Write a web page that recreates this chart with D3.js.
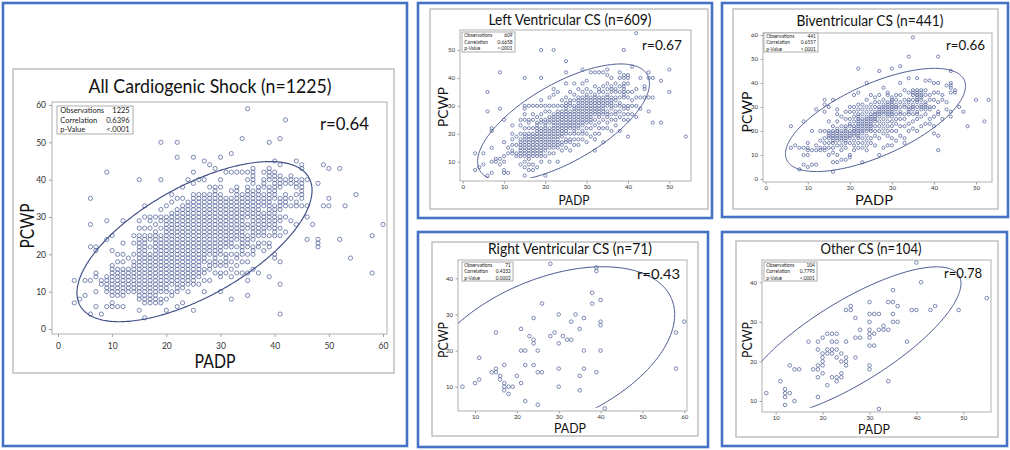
<!DOCTYPE html>
<html><head><meta charset="utf-8">
<script src="https://cdn.jsdelivr.net/npm/d3@7"></script>
<style>body{margin:0;background:#fff} svg{display:block}</style>
</head><body>
<svg id="c" width="1010" height="450"></svg>
<script>
// ---------- DATA ----------
const panelTitles = ["All Cardiogenic Shock (n=1225)", "Left Ventricular CS (n=609)", "Biventricular CS (n=441)", "Right Ventricular CS (n=71)", "Other CS (n=104)"];
const observations = ["1225", "609", "441", "71", "104"];
const correlations = ["0.6396", "0.6658", "0.6557", "0.4332", "0.7795"];
const pValues = ["<.0001", "<.0001", "<.0001", "0.0002", "<.0001"];
const rLabels = ["r=0.64", "r=0.67", "r=0.66", "r=0.43", "r=0.78"];
const xTickValues = [[0,10,20,30,40,50,60],[0,10,20,30,40,50],[0,10,20,30,40,50],[10,20,30,40,50,60],[10,20,30,40,50]];
const yTickValues = [[0,10,20,30,40,50,60],[10,20,30,40,50],[0,10,20,30,40,50,60],[10,20,30,40],[10,20,30,40]];
// prediction ellipse: mean PADP, mean PCWP, half-extent PADP, half-extent PCWP, correlation
const ellipseStats = [[25.2,23.4,21.7,21.45,0.64],[24.4,24.0,20.8,21.0,0.665],[26.1,24.6,21.4,21.5,0.6557],[27.4,19.8,30.3,23.4,0.4332],[25.9,24.8,23.6,19.1,0.78]];
const ellipseClipPCWPMin = [null, 4.2, null, 4.2, 8.3];

// PADP value -> list of PCWP values
const allCSColumns = [
 [3,[7,13]],[4,[8]],[5,[9,13]],[6,[4,13,22,28,35]],[7,[6,10,14,15,21,22]],[8,[4,12,13]],
 [9,[6,10,11,12,13,14,24,29,42]],
 [10,[6,7,9,10,11,12,13,14,15,16,17,21,25]],
 [11,[6,9,10,11,12,13,14,15,16,18,20]],
 [12,[6,9,10,11,12,13,14,15,16,18,20,23,29]],
 [13,[10,11,12,13,14,15,16,19]],
 [14,[10,11,12,13,14,15,16,17,18,20,23,25]],
 [15,[5,8,9,10,11,12,13,14,15,16,17,18,19,20,21,22,23,24,25,27,29,40]],
 [16,[3,7,8,9,10,11,12,13,14,15,16,17,18,19,20,21,22,23,24,25,27,30,33]],
 [17,[7,8,9,10,11,12,13,14,15,16,17,18,19,20,22,24,25,27,29,30]],
 [18,[7,8,9,10,11,12,13,14,15,16,17,18,19,20,21,22,23,24,25,26,28,30]],
 [19,[7,8,10,11,12,13,14,15,16,17,18,19,20,21,22,23,24,25,27,29,30,32,40,50]],
 [20,[5,8,10,11,12,13,14,15,16,17,18,19,20,21,22,23,24,25,26,27,28,29,30,33]],
 [21,[9,10,12,13,14,15,16,17,18,19,20,21,22,23,24,25,26,27,28,29,30,31,34,36]],
 [22,[6,10,11,12,13,14,15,16,17,18,19,20,21,22,23,24,25,26,27,28,29,30,31,32,35,46,50]],
 [23,[7,11,12,13,14,15,16,17,18,19,20,21,22,23,24,25,26,27,28,29,30,31,32,33,35,38]],
 [24,[10,12,13,14,15,16,17,18,19,20,21,22,23,24,25,26,27,28,29,30,31,32,33,34,40]],
 [25,[5,12,13,14,15,16,17,18,19,20,21,22,23,24,25,26,27,28,29,30,31,32,33,34,35,36,39,42,46]],
 [26,[12,14,15,16,17,18,19,20,21,22,23,24,25,26,27,28,29,30,31,32,33,34,35,36,40]],
 [27,[10,13,15,16,18,19,20,21,22,23,24,25,26,27,28,29,30,31,32,33,34,35,36,40,45]],
 [28,[13,16,17,18,20,21,22,23,24,25,26,27,28,29,30,31,32,33,34,35,36,38,44]],
 [29,[15,17,18,19,20,21,22,23,24,25,26,27,28,29,30,31,32,33,34,35,36,37,38,43]],
 [30,[10,14,15,17,18,20,21,22,23,24,25,26,27,28,29,30,31,32,33,34,35,36,38,40,46]],
 [31,[15,17,18,19,20,22,23,24,25,26,27,28,29,30,31,32,33,34,35,42]],
 [32,[8,14,16,18,20,22,23,24,25,26,27,28,29,30,31,32,33,34,35,37,42,47]],
 [33,[15,17,19,20,22,24,25,26,27,28,29,30,31,32,33,34,35,36,37,38,42]],
 [34,[15,18,20,21,22,23,24,25,26,27,28,29,30,31,32,33,34,35,36,42,51]],
 [35,[9,13,15,18,20,22,23,24,25,27,28,30,31,32,33,34,35,36,37,38,40,42,59]],
 [36,[16,20,21,22,24,25,26,27,28,29,30,31,32,33,34,35,36,37,39,40,41,42,43]],
 [37,[15,22,23,25,26,27,28,29,30,31,32,33,34,35,36,37,38]],
 [38,[21,23,25,26,27,28,29,30,31,33,34,35,36,38,39,40,42]],
 [39,[14,22,23,25,27,28,29,30,31,32,33,34,35,36,37,38,40,41,42,43,50]],
 [40,[19,20,25,26,27,28,29,30,31,32,33,35,36,37,38,39,40,41,42,45]],
 [41,[4,12,18,25,27,29,30,32,33,34,35,38,39,40,41,44,51]],
 [42,[26,30,33,34,35,36,39,40,56]],
 [43,[29,33,35,39,40,41]],
 [44,[28,33,34,36,38,39,40,45]],
 [45,[33,35,36,37,38,39,40,43,44]],
 [46,[24,30,33,40]],[47,[28]],[48,[22,23,24,39]],[49,[33,44]],[50,[33,35,43]],
 [52,[24,43]],[53,[33]],[54,[19]],[55,[36]],[58,[15,25]],[60,[28]]
];

const lvColumns = [
 [3,[7,13]],[4,[8]],[5,[9,13]],[6,[5,28,35]],[7,[6,10,15,21,22]],[8,[10,11]],[9,[9,11,29,42]],
 [10,[6,7,10,12,17,25]],[11,[6,13,15]],[12,[13,14,16,18,20,23]],[13,[12,13,16,19]],
 [14,[9,12,13,14,15,16,17,18,20,23,25]],
 [15,[5,8,10,12,13,14,15,16,17,18,19,20,22,25,27,29,30,40]],
 [16,[7,9,11,12,13,14,15,16,17,18,19,20,22,24,25,30]],
 [17,[7,9,12,13,14,15,16,17,18,19,20,22,25,27,30]],
 [18,[8,12,13,14,15,16,17,18,19,20,21,22,23,24,26,30]],
 [19,[10,12,13,14,15,16,17,18,19,20,21,22,24,25,27,30,32,40,50]],
 [20,[5,12,14,15,16,17,18,19,20,21,22,23,24,25,28,30]],
 [21,[10,13,15,16,17,18,19,20,21,22,24,25,26,28,30,33]],
 [22,[13,15,16,17,18,19,20,21,22,23,24,25,26,27,30,34,36,50]],
 [23,[10,15,16,17,18,19,20,21,22,23,24,25,26,27,28,30,35]],
 [24,[14,16,17,19,20,21,22,23,24,25,26,27,28,30,32]],
 [25,[15,17,18,20,21,22,23,24,25,26,27,28,29,30,31,33,38,42,46]],
 [26,[14,17,18,20,22,23,24,25,26,27,28,30,31,32,35]],
 [27,[16,18,20,21,22,23,24,25,26,27,28,29,30,32,34,38]],
 [28,[16,18,20,22,23,24,25,26,27,28,29,30,31,32,33,36]],
 [29,[18,20,21,23,24,25,26,27,28,29,30,31,32,33,35,38,43]],
 [30,[17,20,22,24,25,26,27,28,29,30,31,32,33,34,36,39]],
 [31,[19,22,24,25,26,27,28,29,30,31,32,33,35,42]],
 [32,[14,18,20,23,25,27,28,29,30,31,32,33,34,37,42]],
 [33,[20,22,24,26,27,28,29,30,31,32,33,35,36,42]],
 [34,[17,22,25,27,28,29,30,31,32,33,35,37,42]],
 [35,[22,24,26,27,28,30,31,32,33,34,36,38,41,43]],
 [36,[21,25,27,29,30,31,32,33,35,36,37,40]],
 [37,[23,25,27,28,30,32,33,35,36,38]],
 [38,[21,26,28,30,31,33,35,37,40,42]],
 [39,[25,27,29,30,33,34,35,36,37,38,40,41,50]],
 [40,[19,25,27,29,30,33,35,38,40,41]],
 [41,[27,30,32,35,44]],[42,[26,30,33,36,56]],[43,[29,33,40]],[44,[33,36,37]],
 [45,[28,33,40,42]],[46,[24,33,40]],[48,[24,39]],[50,[35,43]],[54,[19]]
];

const bivColumns = [
 [6,[13,22]],[7,[14]],[8,[4,13]],[9,[6,10,13,24]],[10,[5,10,12,13,15]],[11,[6,12,20]],[12,[6,12,14,29]],
 [13,[12,13,16,20]],[14,[12,13,15,17,20,28,31,33]],[15,[10,13,15,17,18,19,20,24,30]],
 [16,[3,7,11,13,15,16,17,18,19,20,22,33]],
 [17,[7,10,14,16,17,18,19,20,21,24,27,29]],
 [18,[8,12,14,16,17,18,19,20,22,26]],
 [19,[8,13,15,16,17,18,19,20,21,22,25,28]],
 [20,[9,10,15,17,18,19,20,22,23,25,28,30]],
 [21,[12,14,16,18,19,20,21,22,24,26,28,30,35]],
 [22,[13,15,17,18,19,20,21,22,23,24,25,26,27,29,31,36,46]],
 [23,[7,13,15,17,19,20,21,22,23,24,25,27,29,31]],
 [24,[12,14,16,18,20,21,22,23,24,25,26,28,30,33,40]],
 [25,[15,17,20,21,22,23,24,25,26,27,29,31,35]],
 [26,[14,18,20,22,24,25,26,27,28,30,32,34]],
 [27,[10,17,20,22,24,26,27,28,29,30,32,35,45]],
 [28,[13,19,21,23,25,27,28,29,30,31,33,38]],
 [29,[14,18,20,22,24,26,27,28,29,30,31,32,35,36]],
 [30,[14,17,20,22,24,26,27,28,29,30,31,32,33,34,46]],
 [31,[16,20,23,25,27,29,30,31,33,35]],
 [32,[18,22,25,27,28,30,32,35,40,47]],
 [33,[15,17,22,25,27,30,31,33,37]],
 [34,[20,23,27,28,29,30,32,33,36,42,51]],
 [35,[21,24,27,29,30,31,33,35,36,37,59]],
 [36,[20,25,27,28,30,32,33,34,35,36,37,42]],
 [37,[22,26,29,30,31,33,34,35,36,37]],
 [38,[23,27,29,30,31,32,35,37,41]],
 [39,[23,25,29,30,33,35,41]],
 [40,[19,22,26,30,33,36,40]],
 [41,[12,18,27,28,32,36,40,51]],
 [42,[25,33,35]],[43,[29,32,39]],[44,[26,28,36,38,39,40,45]],[45,[36,37]],
 [46,[30]],[47,[28]],[48,[22]],[50,[33]],[52,[24]],[53,[33]]
];

const rvPoints = [[28,44],[39,43],[39,42],[38,36],[40,34],[38,33],[26,33],[24,29],[30,30],[34,30],[36,29],[33,28],[40,28],[40,27],[29,25],[28,24],[21,26],[15,25],[23,24],[24,23],[24,22],[31,24],[32,23],[33,23],[30,22],[35,26],[25,20],[21,20],[22,20],[36,20],[40,20],[11,18],[24,16],[22,16],[17,16],[14,14],[15,14],[15,15],[16,13],[16,12],[17,11],[17,10],[17,9],[18,10],[19,10],[18,8],[20,13],[21,11],[25,14],[26,14],[30,15],[30,10],[35,13],[35,9],[36,15],[39,14],[22,6],[25,5],[41,4],[7,10],[10,11],[11,12],[60,28],[58,25],[58,15]];

const otherPoints = [[40,45],[41,40],[35,35],[34,35],[35,38],[30,35],[39,33],[40,33],[43,33],[44,34],[49,33],[55,36],[36,34],[26,34],[26,33],[25,33],[30,32],[31,32],[32,32],[35,32],[35,30],[36,30],[30,30],[33,29],[33,28],[34,28],[32,28],[30,28],[30,27],[27,31],[28,28],[31,27],[27,26],[28,26],[30,26],[31,24],[30,24],[27,21],[38,25],[17,25],[19,25],[21,27],[22,27],[23,27],[22,25],[23,25],[25,25],[20,26],[19,23],[21,23],[22,23],[22,22],[23,23],[20,22],[20,21],[20,20],[21,22],[24,22],[24,20],[25,20],[25,21],[23,21],[25,19],[19,19],[19,18],[18,18],[20,19],[20,17],[24,17],[24,16],[22,16],[23,16],[23,15],[21,14],[19,16],[19,11],[30,19],[30,18],[34,15],[32,8],[11,15],[13,19],[14,18],[15,18],[12,13],[12,12],[12,11],[12,9],[13,12],[14,10],[8,12]];

// ---------- LAYOUT ----------
const FONT = "Lato, 'Open Sans', 'Liberation Sans', sans-serif";
const layouts = [
 {blue:[3,3,407,446], gray:[13,69,394,373], frame:[52,102,387,334], xMap:[0,58,60,383], yMap:[0,329,60,105],
  title:[210,93,243,20], yCap:[27,226,45,19.5], xCap:[215,368,41,19.5], rLab:[320,130,49,17], stats:[57,106,133,134],
  statFont:7.5, tickFont:8.5, tickLen:3, xPad:6, yPad:3, rad:2.1, ew:1.15},
 {blue:[418,3,712,218], gray:[430,9,708,209], frame:[460,30,691,181], xMap:[0,462.7,50,669.3], yMap:[10,161.7,50,50],
  title:[570,25,163,14.5], yCap:[443,107,40,14], xCap:[574,204.5,31,14], rLab:[642,49.5,40,14], stats:[462,32,515,52],
  statFont:4.8, tickFont:6, tickLen:2.5, xPad:1.5, yPad:2.5, rad:1.6, ew:0.95},
 {blue:[722,3,1008,217], gray:[733,9,998,209], frame:[763,33,992,182], xMap:[0,765.7,50,976], yMap:[0,179,60,35],
  title:[870,26,147,14.5], yCap:[747,112,41,14], xCap:[874,204.5,38,14], rLab:[946,50,39,14], stats:[764,33,818,52],
  statFont:4.8, tickFont:6, tickLen:2.5, xPad:1.5, yPad:2.5, rad:1.6, ew:0.95},
 {blue:[418,232,708,447], gray:[432,242,698,436], frame:[458,260,687,411], xMap:[10,475,60,684.3], yMap:[10,386.7,40,278.3],
  title:[570,254,164,14.5], yCap:[443,340,36,14], xCap:[570,433,32,14], rLab:[637,279,43,14], stats:[462,262,513,281],
  statFont:4.8, tickFont:6, tickLen:2.5, xPad:1.5, yPad:2.5, rad:1.8, ew:0.95},
 {blue:[722,232,1007,446], gray:[736,241,998,437], frame:[762,260,991,412], xMap:[10,775.7,50,963.3], yMap:[10,401,40,282.3],
  title:[871,254,101,14.5], yCap:[747,340,36,14], xCap:[874,434,32,14], rLab:[944,278,38,14], stats:[764,262,817,281],
  statFont:4.8, tickFont:6, tickLen:2.5, xPad:1, yPad:2.5, rad:1.8, ew:0.95}
];

const expand = cols => cols.flatMap(([x, ys]) => ys.map(y => [x, y]));
const panelData = [expand(allCSColumns), expand(lvColumns), expand(bivColumns), rvPoints, otherPoints];

const svg = d3.select("#c");
svg.append("rect").attr("width",1010).attr("height",450).attr("fill","#fff");

const MARK = "#53639b";

layouts.forEach((L, i) => {
  const g = svg.append("g");
  const rect = (b, stroke, sw, fill) => g.append("rect").attr("x", b[0]).attr("y", b[1])
      .attr("width", b[2]-b[0]).attr("height", b[3]-b[1]).attr("fill", fill || "none")
      .attr("stroke", stroke).attr("stroke-width", sw);
  rect(L.blue, "#4472C4", 2.6);
  rect(L.gray, "#bdbdbd", 1.4);

  const x = d3.scaleLinear().domain([L.xMap[0], L.xMap[2]]).range([L.xMap[1], L.xMap[3]]);
  const y = d3.scaleLinear().domain([L.yMap[0], L.yMap[2]]).range([L.yMap[1], L.yMap[3]]);
  const f = L.frame;

  // axes
  const gx = g.append("g").attr("transform", `translate(0,${f[3]})`)
    .call(d3.axisBottom(x).tickValues(xTickValues[i]).tickSize(L.tickLen).tickPadding(L.xPad));
  const gy = g.append("g").attr("transform", `translate(${f[0]},0)`)
    .call(d3.axisLeft(y).tickValues(yTickValues[i]).tickSize(L.tickLen).tickPadding(L.yPad));
  [gx, gy].forEach(a => {
    a.select(".domain").remove();
    a.attr("font-family", FONT).attr("font-size", L.tickFont);
    a.selectAll("line").attr("stroke", "#8a8a8a").attr("stroke-width", 0.8);
    a.selectAll("text").attr("fill", "#333");
  });

  rect(f, "#a8a8a8", 0.9);

  // clip
  const cid = "clip" + i;
  const yBottom = ellipseClipPCWPMin[i] == null ? f[3] : y(ellipseClipPCWPMin[i]);
  svg.append("clipPath").attr("id", cid).append("rect")
    .attr("x", f[0]).attr("y", f[1]).attr("width", f[2]-f[0]).attr("height", yBottom - f[1]);

  // points
  g.append("g").selectAll("circle").data(panelData[i]).join("circle")
    .attr("cx", d => x(d[0])).attr("cy", d => y(d[1])).attr("r", L.rad)
    .attr("fill", "none").attr("stroke", MARK).attr("stroke-width", 0.75);

  // ellipse
  const [mx, my, A, B, rho] = ellipseStats[i];
  const s = Math.sqrt(1 - rho*rho);
  const pts = d3.range(0, 361).map(k => {
    const t = k * Math.PI / 180;
    const u = Math.cos(t), v = rho*Math.cos(t) + s*Math.sin(t);
    return [x(mx + A*u), y(my + B*v)];
  });
  g.append("path").attr("d", d3.line()(pts)).attr("fill", "none")
    .attr("stroke", "#3e4d86").attr("stroke-width", L.ew).attr("clip-path", `url(#${cid})`);

  // stats box
  const sb = L.stats;
  rect(sb, "#9a9a9a", 0.8, "#fff");
  const rowH = (sb[3]-sb[1]) / 3;
  const labels = ["Observations", "Correlation", "p-Value"];
  const vals = [observations[i], correlations[i], pValues[i]];
  labels.forEach((lab, k) => {
    const by = sb[1] + rowH*(k+0.5) + L.statFont*0.36;
    g.append("text").attr("x", sb[0] + rowH*0.35).attr("y", by).text(lab)
      .attr("font-family", FONT).attr("font-size", L.statFont).attr("fill", "#222");
    g.append("text").attr("x", sb[2] - rowH*0.35).attr("y", by).text(vals[k]).attr("text-anchor", "end")
      .attr("font-family", FONT).attr("font-size", L.statFont).attr("fill", "#222");
  });

  const txt = (spec, str, anchor) => g.append("text").attr("x", spec[0]).attr("y", spec[1]).text(str)
    .attr("font-family", FONT).attr("font-size", spec[3]).attr("fill", "#111")
    .attr("text-anchor", anchor).attr("textLength", spec[2]).attr("lengthAdjust", "spacingAndGlyphs");
  txt(L.title, panelTitles[i], "middle");
  txt(L.xCap, "PADP", "middle");
  txt(L.rLab, rLabels[i], "start");
  // rotated y caption
  g.append("text").attr("transform", `translate(${L.yCap[0] + L.yCap[3]*0.36},${L.yCap[1]}) rotate(-90)`)
    .text("PCWP").attr("text-anchor", "middle").attr("font-family", FONT).attr("font-size", L.yCap[3])
    .attr("fill", "#111").attr("textLength", L.yCap[2]).attr("lengthAdjust", "spacingAndGlyphs");
});
</script>
</body></html>
